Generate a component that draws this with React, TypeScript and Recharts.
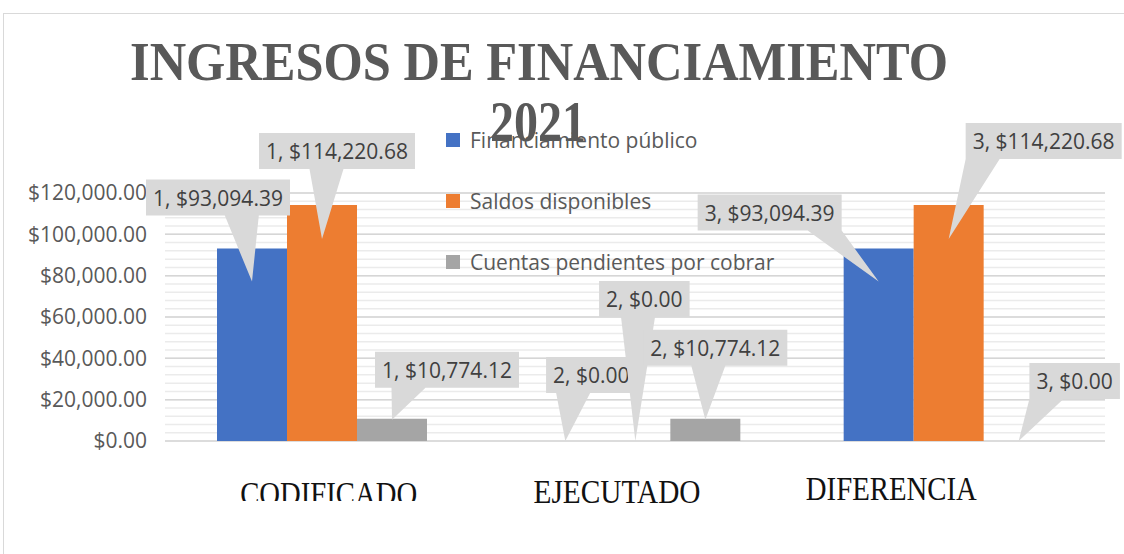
import React from 'react';
import { BarChart, Bar, XAxis, YAxis, CartesianGrid, Legend, LabelList } from 'recharts';

const categories = ['CODIFICADO', 'EJECUTADO', 'DIFERENCIA'];
const financiamientoPublico = [93094.39, 0, 93094.39];
const saldosDisponibles = [114220.68, 0, 114220.68];
const cuentasPendientes = [10774.12, 10774.12, 0];
const seriesNames = ['Financiamiento público', 'Saldos disponibles', 'Cuentas pendientes por cobrar'];
const yTicks = [0, 20000, 40000, 60000, 80000, 100000, 120000];

const data = categories.map((name, i) => ({
  name,
  idx: i,
  publico: financiamientoPublico[i],
  saldos: saldosDisponibles[i],
  cuentas: cuentasPendientes[i],
}));

const colors = ['#4472C4', '#ED7D31', '#A5A5A5'];
const minorTicks = Array.from({ length: 31 }, (_, i) => i * 4000);

// callout placement per series / category (dx of box centre from tip, rise of box bottom above tip, tip depth into bar)
const calloutLayout = [
  [{ dx: -34, up: 66, down: 33 }, { dx: 26, up: 48, down: 0 }, { dx: -109, up: 51, down: 33 }],
  [{ dx: 15, up: 70, down: 34 }, { dx: 9, up: 124, down: 0 }, { dx: 95, up: 80, down: 34 }],
  [{ dx: 55, up: 32, down: 1 }, { dx: 10, up: 54, down: 1 }, { dx: 56, up: 42, down: 0 }],
];

// x label tweaks (they sit off-centre and are squeezed in the original)
const xLabelLayout = [
  { dx: 7, dy: 64, len: 177, clip: 60 },
  { dx: -18, dy: 62, len: 167, clip: 0 },
  { dx: -57, dy: 59, len: 171, clip: 0 },
];

const money = (v: number) =>
  `$${v.toLocaleString('en-US', { minimumFractionDigits: 2, maximumFractionDigits: 2 })}`;

const charW: Record<string, number> = { ',': 0.258, '.': 0.266, ' ': 0.26 };
const textWidth = (s: string, size: number) =>
  s.split('').reduce((acc, c) => acc + (charW[c] ?? 0.572), 0) * size;

const LABEL_FONT = 21;

// zero values still need a (hidden) rectangle so their callout is drawn
const tinyForZero = (v: any) => (Number(Array.isArray(v) ? v[1] - v[0] : v) === 0 ? 0.05 : 0);

const makeCallout = (series: number) => (props: any) => {
  const vb = props.viewBox ?? props;
  const x = Number(vb.x ?? props.x);
  const y = Number(vb.y ?? props.y);
  const width = Number(vb.width ?? props.width);
  const h0 = Number(vb.height ?? props.height ?? 0);
  const idx = (props.payload?.idx ?? props.index) as number;
  const lay = calloutLayout[series][idx];
  if (!lay) return null;
  const tipX = x + width / 2;
  const tipY = Math.min(y, y + h0) + lay.down;
  const text = `${idx + 1}, ${money(Number(props.value))}`;
  const w = textWidth(text, LABEL_FONT) + 14;
  const h = 36;
  const cx = tipX + lay.dx;
  const bottom = tipY - lay.up;
  const left = cx - w / 2;
  const top = bottom - h;
  const half = 17;
  const baseC = Math.min(Math.max(cx + (tipX - cx) * 0.7, left + half), left + w - half);
  const d = `M${left},${top} H${left + w} V${bottom} H${baseC + half} L${tipX},${tipY} L${baseC - half},${bottom} H${left} Z`;
  return (
    <g>
      <path d={d} fill="#D9D9D9" />
      <text x={left + 7} y={top + 26} fontFamily="Open Sans" fontSize={LABEL_FONT} fill="#404040">
        {text}
      </text>
    </g>
  );
};

const XTick = (props: any) => {
  const { x, y, payload, index } = props;
  const lay = xLabelLayout[index] ?? { dx: 0, dy: 60, len: 170, clip: 0 };
  const start = x + lay.dx - lay.len / 2;
  const clipId = `xclip-${index}`;
  return (
    <g>
      {lay.clip > 0 && (
        <defs>
          <clipPath id={clipId}>
            <rect x={start - 10} y={y} width={lay.len + 20} height={lay.clip} />
          </clipPath>
        </defs>
      )}
      <text
        x={start}
        y={y + lay.dy}
        textLength={lay.len}
        lengthAdjust="spacingAndGlyphs"
        fontFamily="Liberation Serif"
        fontSize={33}
        fill="#111"
        clipPath={lay.clip > 0 ? `url(#${clipId})` : undefined}
      >
        {payload.value}
      </text>
    </g>
  );
};

const LegendBox = () => (
  <div style={{ fontFamily: 'Open Sans', fontSize: 21, color: '#595959' }}>
    {seriesNames.map((n, i) => (
      <div key={n} style={{ display: 'flex', alignItems: 'center', height: 24, marginBottom: 37 }}>
        <span style={{ width: 14, height: 14, background: colors[i], marginRight: 10, marginLeft: 3 }} />
        <span style={{ whiteSpace: 'nowrap' }}>{n}</span>
      </div>
    ))}
  </div>
);

export default function App() {
  return (
    <div
      style={{
        position: 'absolute',
        left: 0,
        top: 0,
        width: 1124,
        height: 554,
        background: '#fff',
        overflow: 'hidden',
      }}
    >
      <div
        style={{
          position: 'absolute',
          left: 3,
          top: 13,
          right: -2,
          bottom: -2,
          borderTop: '1.5px solid #D9D9D9',
          borderLeft: '1.5px solid #D9D9D9',
        }}
      />
      <div style={{ position: 'absolute', left: 0, top: 0 }}>
        <BarChart
          width={1124}
          height={554}
          data={data}
          margin={{ top: 193, right: 19, left: 10, bottom: 53 }}
          barGap={0}
          barSize={70}
        >
          <CartesianGrid vertical={false} horizontalValues={minorTicks} stroke="#EBEBEB" strokeWidth={1.5} />
          <CartesianGrid vertical={false} horizontalValues={yTicks} stroke="#D6D6D6" strokeWidth={1.5} />
          <XAxis
            dataKey="name"
            axisLine={false}
            tickLine={false}
            tickSize={0}
            tickMargin={0}
            height={60}
            interval={0}
            tick={<XTick />}
          />
          <YAxis
            domain={[0, 120000]}
            ticks={yTicks}
            interval={0}
            width={155}
            axisLine={false}
            tickLine={false}
            tickSize={0}
            tickMargin={18}
            tickFormatter={money}
            tick={{ fontFamily: 'Open Sans', fontSize: 21, fill: '#595959' }}
          />
          <Legend
            layout="vertical"
            align="center"
            verticalAlign="middle"
            wrapperStyle={{ position: 'absolute', left: 443, top: 128, width: 'auto', height: 'auto' }}
            content={<LegendBox />}
          />
          <Bar dataKey="publico" name={seriesNames[0]} fill={colors[0]} minPointSize={tinyForZero} isAnimationActive={false}>
            <LabelList dataKey="publico" content={makeCallout(0)} />
          </Bar>
          <Bar dataKey="saldos" name={seriesNames[1]} fill={colors[1]} minPointSize={tinyForZero} isAnimationActive={false}>
            <LabelList dataKey="saldos" content={makeCallout(1)} />
          </Bar>
          <Bar dataKey="cuentas" name={seriesNames[2]} fill={colors[2]} minPointSize={tinyForZero} isAnimationActive={false}>
            <LabelList dataKey="cuentas" content={makeCallout(2)} />
          </Bar>
        </BarChart>
      </div>
      <svg
        width={1124}
        height={554}
        style={{ position: 'absolute', left: 0, top: 0, pointerEvents: 'none' }}
      >
        <text
          x={130}
          y={80}
          textLength={818}
          lengthAdjust="spacingAndGlyphs"
          fontFamily="Liberation Serif"
          fontWeight="bold"
          fontSize={55}
          fill="#595959"
        >
          INGRESOS DE FINANCIAMIENTO
        </text>
        <text
          x={490}
          y={141}
          textLength={96}
          lengthAdjust="spacingAndGlyphs"
          fontFamily="Liberation Serif"
          fontWeight="bold"
          fontSize={57}
          fill="#595959"
        >
          2021
        </text>
      </svg>
    </div>
  );
}
